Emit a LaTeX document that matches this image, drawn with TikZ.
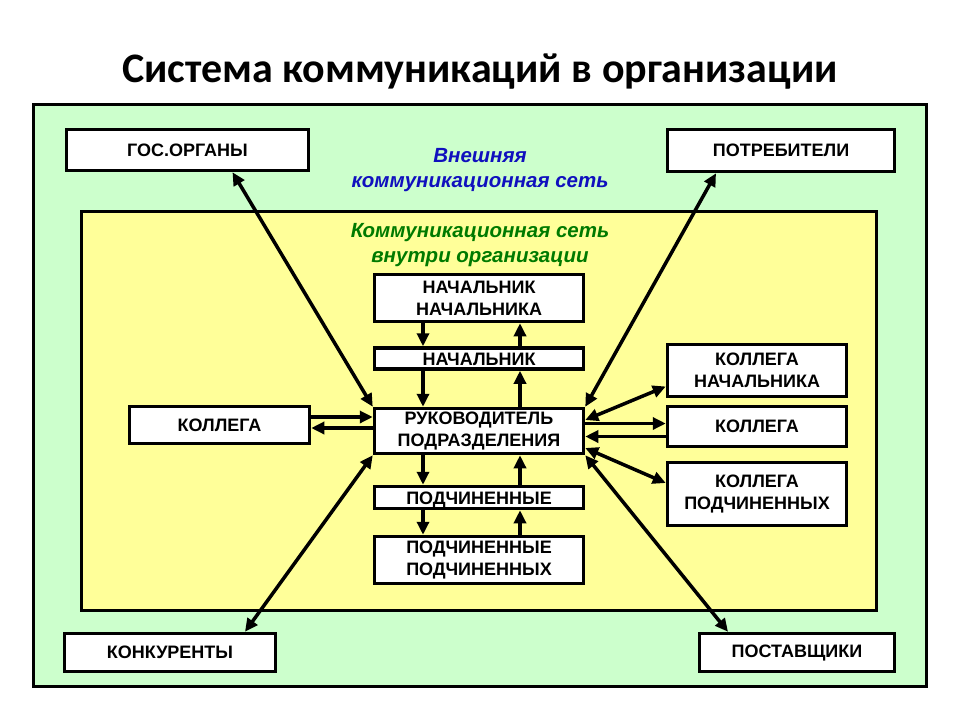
\documentclass[tikz,border=0pt]{standalone}
\usepackage{fontspec}
\setmainfont{Liberation Sans}
\newfontfamily\titlefont{Carlito}
\usetikzlibrary{arrows.meta}
\definecolor{outergreen}{RGB}{204,255,204}
\definecolor{inneryellow}{RGB}{255,255,153}
\definecolor{extblue}{RGB}{16,16,190}
\definecolor{intgreen}{RGB}{0,122,0}
\tikzset{
  box/.style={draw, line width=3.5pt, fill=white, inner sep=0pt,
    font=\bfseries\fontsize{18}{22}\selectfont},
  twobox/.style={box, align=center},
  thinbox/.style={box, text height=14.5pt, text depth=0pt},
  arr/.style={line width=3.5pt, -{Triangle[length=13pt,width=12pt]}},
  biarr/.style={line width=3.5pt, {Triangle[length=13pt,width=12pt]}-{Triangle[length=13pt,width=12pt]}},
  netlabel/.style={align=center, font=\bfseries\itshape\fontsize{20.5}{25}\selectfont}
}

\begin{document}
\begin{tikzpicture}[x=1pt,y=-1pt]
			%%%%% START %%%%%
			\useasboundingbox[fill=white] (0,0) rectangle (960,720);
			
			\node[font=\titlefont\bfseries\fontsize{42}{48}\selectfont] (title) at (480,72) {Система коммуникаций в организации};
			
			\draw[line width=3.5pt, fill=outergreen] (33.5,104.5) rectangle (926.5,686.5);
			\draw[line width=3.5pt, fill=inneryellow] (81.5,211.5) rectangle (876.5,610.5);
			
			\node[netlabel, text=extblue] (ext) at (480,170) {Внешняя\\коммуникационная сеть};
			\node[netlabel, text=intgreen] (int) at (480,245) {Коммуникационная сеть\\внутри организации};
			
			\node[box, minimum width=242pt, minimum height=41pt] (gos) at (187.5,150) {ГОС.ОРГАНЫ};
			\node[box, minimum width=227pt, minimum height=42pt] (potr) at (781,150.5) {ПОТРЕБИТЕЛИ};
			\node[box, minimum width=211pt, minimum height=38pt] (konk) at (170,652.5) {КОНКУРЕНТЫ};
			\node[box, minimum width=195pt, minimum height=38pt] (post) at (797,652.5) {ПОСТАВЩИКИ};
			
			\node[twobox, minimum width=209pt, minimum height=47pt] (nn) at (479,298) {НАЧАЛЬНИК\\НАЧАЛЬНИКА};
			\node[thinbox, minimum width=209pt, minimum height=21pt] (nach) at (479,358.5) {НАЧАЛЬНИК};
			\node[twobox, minimum width=209pt, minimum height=45pt] (ruk) at (479,431) {РУКОВОДИТЕЛЬ\\ПОДРАЗДЕЛЕНИЯ};
			\node[thinbox, minimum width=209pt, minimum height=22pt] (podch) at (479,497.5) {ПОДЧИНЕННЫЕ};
			\node[twobox, minimum width=209pt, minimum height=47pt] (pp) at (479,560) {ПОДЧИНЕННЫЕ\\ПОДЧИНЕННЫХ};
			
			\node[box, minimum width=180pt, minimum height=37pt] (kolL) at (219.5,425) {КОЛЛЕГА};
			\node[twobox, minimum width=179pt, minimum height=52pt] (kn) at (757,370.5) {КОЛЛЕГА\\НАЧАЛЬНИКА};
			\node[box, minimum width=179pt, minimum height=40pt] (kol) at (757,426.5) {КОЛЛЕГА};
			\node[twobox, minimum width=179pt, minimum height=63pt] (kp) at (757,494) {КОЛЛЕГА\\ПОДЧИНЕННЫХ};
			
			% vertical chain
			\foreach \a/\b in {nn/nach,nach/ruk,ruk/podch,podch/pp} {
				\draw[arr] ([xshift=-56pt]\a.south) -- ([xshift=-56pt]\b.north);
				\draw[arr] ([xshift=41pt]\b.north) -- ([xshift=41pt]\a.south);
			}
			
			% external network
			\draw[biarr] ([xshift=45pt]gos.south) -- (ruk.north west);
			\draw[biarr] ([xshift=-65pt]potr.south) -- (ruk.north east);
			\draw[biarr] ([xshift=75pt]konk.north) -- (ruk.south west);
			\draw[biarr] ([xshift=-69pt]post.north) -- (ruk.south east);
			
			% colleagues
			\draw[arr] ([yshift=8pt]kolL.east) -- ([yshift=8pt]kolL.east -| ruk.west);
			\draw[arr] ([yshift=-3pt]kolL.east -| ruk.west) -- ([yshift=-3pt]kolL.east);
			\draw[biarr] ([yshift=11pt]ruk.east) -- ([yshift=-16pt]kn.west);
			\draw[arr] ([yshift=3pt]kol.west -| ruk.east) -- ([yshift=3pt]kol.west);
			\draw[arr] ([yshift=-10pt]kol.west) -- ([yshift=-10pt]kol.west -| ruk.east);
			\draw[biarr] ([yshift=-17pt]ruk.east) -- ([yshift=11pt]kp.west);
			%%%%% END %%%%%
\end{tikzpicture}
\end{document}
